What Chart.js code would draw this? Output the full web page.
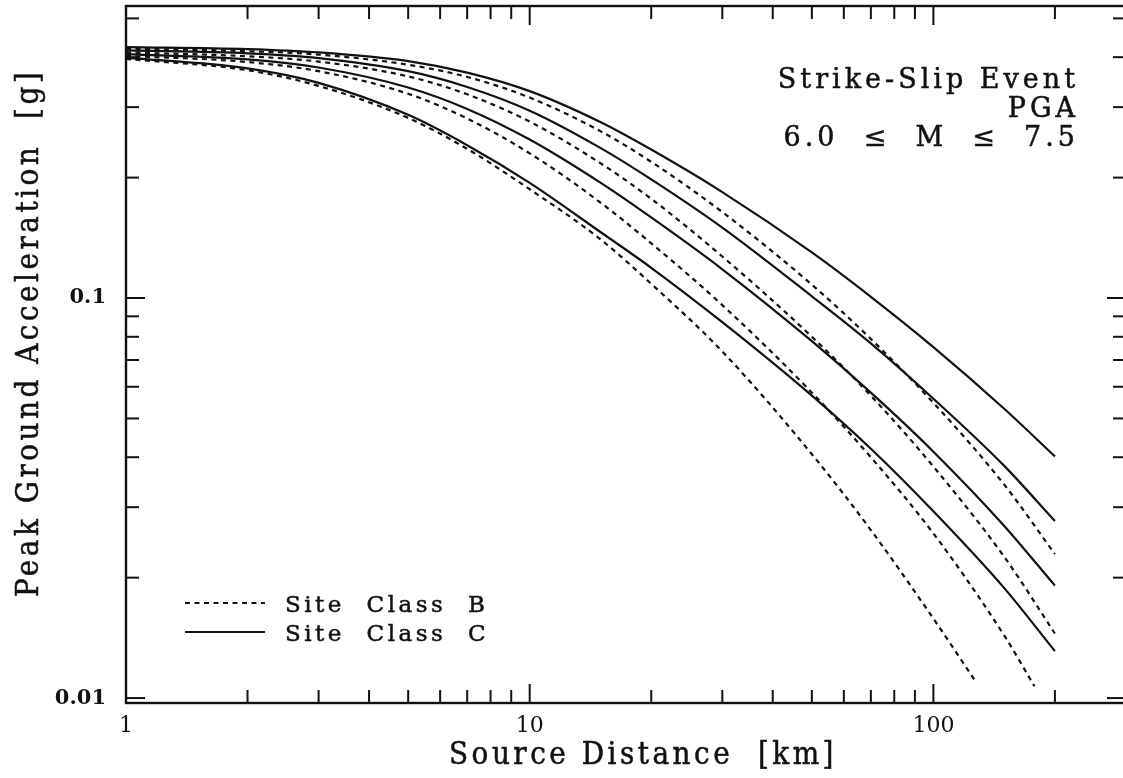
<!DOCTYPE html>
<html>
<head>
<meta charset="utf-8">
<script src="https://cdn.jsdelivr.net/npm/chart.js@4/dist/chart.umd.min.js"></script>
<style>
  html, body { margin: 0; padding: 0; background: #fff; overflow: hidden; }
  #wrap { position: absolute; left: 0; top: 0; width: 1130px; height: 778px; }
</style>
</head>
<body>
<div id="wrap"><canvas id="c"></canvas></div>
<script>
// ---- data ----
const distances   = [1, 2, 3, 5, 7, 10, 15, 20, 30, 50, 70, 100, 150, 200];
const distB65     = [1, 2, 3, 5, 7, 10, 15, 20, 30, 50, 70, 100, 150, 178];
const distB60     = [1, 2, 3, 5, 7, 10, 15, 20, 30, 50, 70, 100, 128];

const classC_M75 = [0.424, 0.419, 0.411, 0.391, 0.366, 0.329, 0.275, 0.235, 0.184, 0.130, 0.1007, 0.0754, 0.0528, 0.0402];
const classC_M70 = [0.416, 0.409, 0.398, 0.369, 0.337, 0.294, 0.237, 0.198, 0.150, 0.101, 0.077, 0.056, 0.0380, 0.0277];
const classC_M65 = [0.407, 0.395, 0.377, 0.336, 0.297, 0.249, 0.194, 0.159, 0.118, 0.078, 0.058, 0.0413, 0.0269, 0.0191];
const classC_M60 = [0.399, 0.375, 0.345, 0.287, 0.241, 0.194, 0.146, 0.119, 0.087, 0.057, 0.042, 0.0293, 0.0188, 0.0131];
const classB_M75 = [0.420, 0.414, 0.406, 0.383, 0.357, 0.317, 0.261, 0.219, 0.164, 0.108, 0.079, 0.0547, 0.0341, 0.0229];
const classB_M70 = [0.411, 0.402, 0.390, 0.358, 0.323, 0.276, 0.217, 0.177, 0.127, 0.080, 0.057, 0.0379, 0.0225, 0.0145];
const classB_M65 = [0.403, 0.389, 0.369, 0.324, 0.281, 0.230, 0.173, 0.137, 0.096, 0.058, 0.040, 0.0258, 0.0143, 0.0107];
const classB_M60 = [0.396, 0.371, 0.339, 0.282, 0.236, 0.187, 0.140, 0.1085, 0.0735, 0.0407, 0.0263, 0.0158, 0.0109];

const xTickValues = [1,2,3,4,5,6,7,8,9,10,20,30,40,50,60,70,80,90,100,200];
const yTickValues = [0.01,0.02,0.03,0.04,0.05,0.06,0.07,0.08,0.09,0.1,0.2,0.3,0.4,0.5];
const xTickLabels = [1, 10, 100];
const yTickLabels = [0.01, 0.1];

const legendLabels = ['Site  Class  B', 'Site  Class  C'];
const annotationLines = ['Strike-Slip Event', 'PGA', '6.0  \u2264  M  \u2264  7.5'];
const xTitle = 'Source Distance  [km]';
const yTitle = 'Peak Ground Acceleration  [g]';

// ---- build datasets ----
const pts = (xs, ys) => xs.map((x, i) => ({ x, y: ys[i] }));
const DASH = [5, 4.5];
function ds(label, xs, ys, dashed) {
  return {
    label, data: pts(xs, ys), site: dashed ? 'B' : 'C',
    borderColor: '#111', borderWidth: 2.2, borderDash: dashed ? DASH : [],
    borderCapStyle: 'butt', pointRadius: 0, fill: false,
    cubicInterpolationMode: 'monotone'
  };
}
const datasets = [
  ds('C M7.5', distances, classC_M75, false),
  ds('C M7.0', distances, classC_M70, false),
  ds('C M6.5', distances, classC_M65, false),
  ds('C M6.0', distances, classC_M60, false),
  ds('B M7.5', distances, classB_M75, true),
  ds('B M7.0', distances, classB_M70, true),
  ds('B M6.5', distB65, classB_M65, true),
  ds('B M6.0', distB60, classB_M60, true)
];

const isDecade = v => Math.abs(Math.log10(v) - Math.round(Math.log10(v))) < 1e-6;

const SERIF = '"DejaVu Serif", serif';
const COND = '"DejaVu Serif Condensed", "DejaVu Serif", serif';

// ---- plugin: frame, inward ticks, titles, legend, annotation ----
const decor = {
  id: 'decor',
  afterDraw(chart) {
    const { ctx, chartArea: a, scales: { x, y } } = chart;
    ctx.save();
    ctx.strokeStyle = '#111';
    ctx.fillStyle = '#111';
    ctx.lineWidth = 2.4;
    ctx.setLineDash([]);
    ctx.strokeRect(a.left, a.top, a.right - a.left, a.bottom - a.top);
    ctx.lineWidth = 2;
    const seg = (x1, y1, x2, y2) => { ctx.beginPath(); ctx.moveTo(x1, y1); ctx.lineTo(x2, y2); ctx.stroke(); };
    x.ticks.forEach(t => {
      const px = x.getPixelForValue(t.value);
      const len = isDecade(t.value) ? 19 : 13;
      seg(px, a.bottom, px, a.bottom - len);
      seg(px, a.top, px, a.top + len);
    });
    y.ticks.forEach(t => {
      const py = y.getPixelForValue(t.value);
      const len = isDecade(t.value) ? 19 : 13;
      seg(a.left, py, a.left + len, py);
      seg(a.right, py, a.right - len, py);
    });

    const text = (s, tx, ty) => { ctx.fillText(s, tx, ty); ctx.strokeText(s, tx, ty); };

    // axis titles
    ctx.lineWidth = 0.5;
    ctx.font = '31px ' + COND;
    ctx.letterSpacing = '3.5px';
    ctx.textAlign = 'center';
    ctx.textBaseline = 'alphabetic';
    text(xTitle, 643, 764);
    ctx.save();
    ctx.translate(38, 333);
    ctx.rotate(-Math.PI / 2);
    text(yTitle, 0, 0);
    ctx.restore();

    // annotation (top right)
    ctx.font = '27px ' + SERIF;
    ctx.letterSpacing = '4px';
    ctx.textAlign = 'right';
    const ax = 1079, ay = [88, 117, 146];
    annotationLines.forEach((s, i) => text(s, ax, ay[i]));

    // legend
    ctx.font = '23px ' + SERIF;
    ctx.letterSpacing = '3.5px';
    ctx.textAlign = 'left';
    const lx0 = a.left + 59, lx1 = a.left + 139, tx = a.left + 159;
    const rows = [603, 632];
    const reps = [chart.data.datasets.find(d => d.site === 'B'), chart.data.datasets.find(d => d.site === 'C')];
    reps.forEach((d, i) => {
      ctx.lineWidth = d.borderWidth;
      ctx.setLineDash(d.borderDash);
      seg(lx0, rows[i], lx1, rows[i]);
      ctx.setLineDash([]);
      ctx.lineWidth = 0.5;
      text(legendLabels[i], tx, rows[i] + 9);
    });
    ctx.restore();
  }
};

new Chart(document.getElementById('c'), {
  type: 'line',
  data: { datasets },
  options: {
    responsive: true,
    maintainAspectRatio: false,
    animation: false,
    layout: { padding: { top: 6, right: 4, left: 0, bottom: 0 } },
    plugins: { legend: { display: false }, tooltip: { enabled: false } },
    scales: {
      x: {
        type: 'logarithmic', min: 1, max: 300,
        grid: { display: false, drawTicks: false },
        border: { display: false },
        afterBuildTicks: s => { s.ticks = xTickValues.map(v => ({ value: v })); },
        afterFit: s => { s.height = 75; s.paddingLeft = 0; s.paddingRight = 0; },
        ticks: {
          autoSkip: false, maxRotation: 0, padding: 10,
          color: '#111', font: { family: SERIF, size: 22 },
          callback: v => xTickLabels.includes(v) ? String(v) : ''
        }
      },
      y: {
        type: 'logarithmic', min: 0.00972, max: 0.537,
        grid: { display: false, drawTicks: false },
        border: { display: false },
        afterBuildTicks: s => { s.ticks = yTickValues.map(v => ({ value: v })); },
        afterFit: s => { s.width = 126; s.paddingTop = 0; s.paddingBottom = 0; },
        ticks: {
          autoSkip: false, padding: 20,
          color: '#111', font: { family: SERIF, size: 21, weight: 'bold' },
          callback: v => yTickLabels.includes(v) ? String(v) : ''
        }
      }
    }
  },
  plugins: [decor]
});
</script>
</body>
</html>
